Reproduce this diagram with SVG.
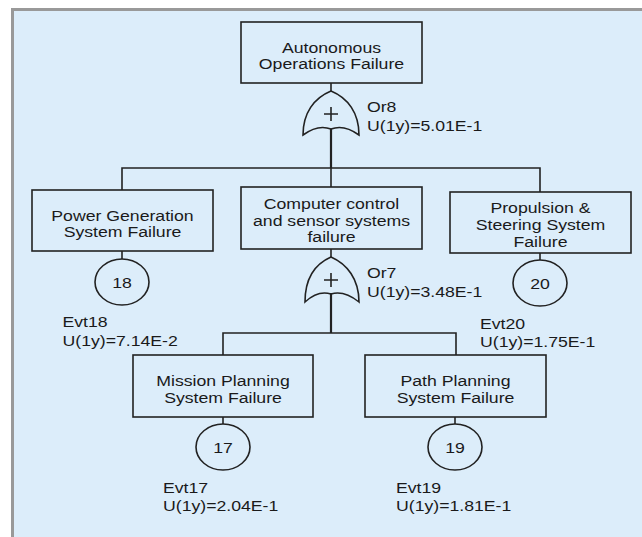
<svg xmlns="http://www.w3.org/2000/svg" width="642" height="537" viewBox="0 0 642 537">
<style>
.bg{fill:#dcedfa}
.frame{fill:none;stroke:#999;stroke-width:3}
.box{fill:none;stroke:#222;stroke-width:1.6}
.ln{fill:none;stroke:#222;stroke-width:1.6}
.stem{fill:none;stroke:#222;stroke-width:2.2}
.gate{fill:none;stroke:#222;stroke-width:1.6}
text{font-family:"Liberation Sans",Arial,sans-serif;font-size:15.5px;fill:#1a1a1a}
.c{text-anchor:middle}
</style>
<rect x="0" y="0" width="642" height="537" fill="#ffffff"/>
<rect class="bg" x="12" y="9" width="630" height="528"/>
<path class="frame" d="M12.5,537 V9.5 H642"/>
<g id="connectors">
<path class="ln" d="M331,83 V91"/>
<path class="stem" d="M331,129 V168"/>
<path class="ln" d="M122,190 V168 H540 V192"/>
<path class="ln" d="M331,168 V187"/>
<path class="ln" d="M122,251 V259"/>
<path class="ln" d="M540,253 V260"/>
<path class="ln" d="M331,249 V257"/>
<path class="stem" d="M331,293 V333"/>
<path class="ln" d="M223,355 V333 H456 V355"/>
<path class="ln" d="M223,417 V424"/>
<path class="ln" d="M455,417 V424"/>
</g>
<g id="top">
<rect class="box" x="241" y="22" width="181" height="61"/>
<text class="c" transform="translate(331.5 53) scale(1.14 1)">Autonomous</text>
<text class="c" transform="translate(331.5 69) scale(1.14 1)">Operations Failure</text>
</g>
<g id="or8">
<path class="gate" d="M303,135 C303,113 314,98 331,91 C348,98 359,113 359,135 Q344,124 331,129 Q318,124 303,135 Z"/>
<path class="ln" d="M324,114 H338 M331,107 V121"/>
<text transform="translate(367 112) scale(1.14 1)">Or8</text>
<text transform="translate(367 131) scale(1.14 1)">U(1y)=5.01E-1</text>
</g>
<g id="power">
<rect class="box" x="32" y="190" width="181" height="61"/>
<text class="c" transform="translate(122.5 221) scale(1.14 1)">Power Generation</text>
<text class="c" transform="translate(122.5 237) scale(1.14 1)">System Failure</text>
</g>
<g id="evt18">
<ellipse class="box" cx="122" cy="282" rx="27" ry="23"/>
<text class="c" transform="translate(122 288) scale(1.14 1)">18</text>
<text transform="translate(62.5 327) scale(1.14 1)">Evt18</text>
<text transform="translate(62.5 346) scale(1.14 1)">U(1y)=7.14E-2</text>
</g>
<g id="computer">
<rect class="box" x="241" y="187" width="181" height="62"/>
<text class="c" transform="translate(331.5 209) scale(1.14 1)">Computer control</text>
<text class="c" transform="translate(331.5 225.5) scale(1.14 1)">and sensor systems</text>
<text class="c" transform="translate(331.5 242) scale(1.14 1)">failure</text>
</g>
<g id="propulsion">
<rect class="box" x="450" y="192" width="181" height="61"/>
<text class="c" transform="translate(540.5 213) scale(1.14 1)">Propulsion &amp;</text>
<text class="c" transform="translate(540.5 230) scale(1.14 1)">Steering System</text>
<text class="c" transform="translate(540.5 246.5) scale(1.14 1)">Failure</text>
</g>
<g id="evt20">
<ellipse class="box" cx="540" cy="283" rx="27" ry="23"/>
<text class="c" transform="translate(540 289) scale(1.14 1)">20</text>
<text transform="translate(480 329) scale(1.14 1)">Evt20</text>
<text transform="translate(480 347) scale(1.14 1)">U(1y)=1.75E-1</text>
</g>
<g id="or7">
<path class="gate" d="M305,302 C305,279 315,264 331,257 C347,264 359,279 359,302 Q344,290 331,294 Q318,290 305,302 Z"/>
<path class="ln" d="M324,280 H338 M331,273 V287"/>
<text transform="translate(367 278) scale(1.14 1)">Or7</text>
<text transform="translate(367 297) scale(1.14 1)">U(1y)=3.48E-1</text>
</g>
<g id="mission">
<rect class="box" x="133" y="355" width="180" height="62"/>
<text class="c" transform="translate(223 386) scale(1.14 1)">Mission Planning</text>
<text class="c" transform="translate(223 402.5) scale(1.14 1)">System Failure</text>
</g>
<g id="evt17">
<ellipse class="box" cx="223" cy="447" rx="27" ry="23"/>
<text class="c" transform="translate(223 453) scale(1.14 1)">17</text>
<text transform="translate(163 492.5) scale(1.14 1)">Evt17</text>
<text transform="translate(163 510.5) scale(1.14 1)">U(1y)=2.04E-1</text>
</g>
<g id="path">
<rect class="box" x="365" y="355" width="181" height="62"/>
<text class="c" transform="translate(455.5 386) scale(1.14 1)">Path Planning</text>
<text class="c" transform="translate(455.5 402.5) scale(1.14 1)">System Failure</text>
</g>
<g id="evt19">
<ellipse class="box" cx="455" cy="447" rx="27" ry="23"/>
<text class="c" transform="translate(455 453) scale(1.14 1)">19</text>
<text transform="translate(396 492.5) scale(1.14 1)">Evt19</text>
<text transform="translate(396 510.5) scale(1.14 1)">U(1y)=1.81E-1</text>
</g>
</svg>
